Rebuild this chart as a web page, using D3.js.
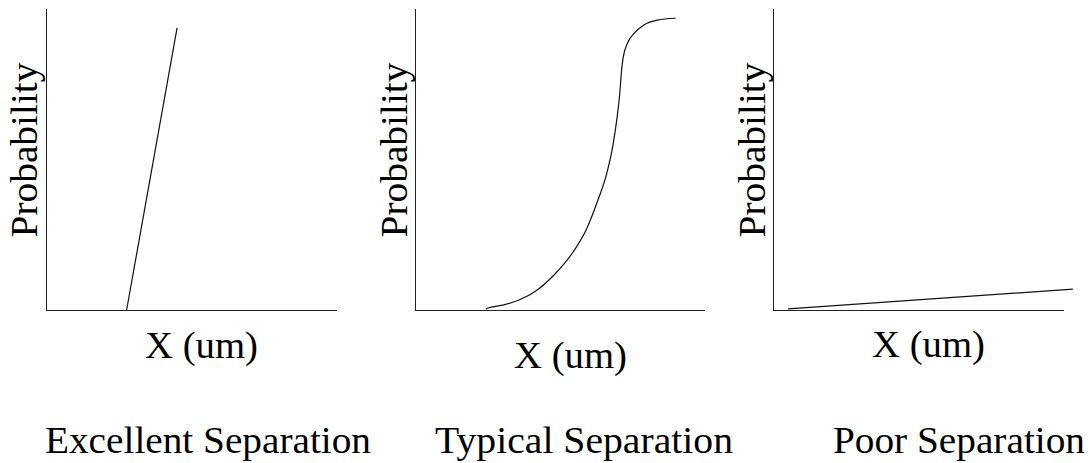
<!DOCTYPE html>
<html>
<head>
<meta charset="utf-8">
<script src="https://cdn.jsdelivr.net/npm/d3@7"></script>
<style>
  html, body { margin: 0; padding: 0; background: #fff; }
  svg text { font-family: "Liberation Serif", "Times New Roman", serif; fill: #000; }
  .axis path { stroke: #222; stroke-width: 1.5; }
  .curve { fill: none; stroke: #111; stroke-width: 1.2; }
</style>
</head>
<body>
<svg id="chart" width="1092" height="463"></svg>
<script>
/* Three sketch panels: probability vs. X for different separations. */

// panel names and labels
const panelTitles = ["Excellent Separation", "Typical Separation", "Poor Separation"];
const yLabel = "Probability";
const xLabel = "X (um)";

// curve values, in 0..100 units on both axes
const excellentX = [27.8, 45.2];
const excellentY = [0, 93.4];

const typicalX = [24.5, 25.0, 30.8, 36.0, 41.8, 48.1, 54.7, 59.2, 63.3, 66.4, 68.5, 69.9, 70.8, 71.5, 72.0, 73.5, 75.8, 79.2, 83.8, 90.2];
const typicalY = [0.2, 0.6, 1.7, 3.3, 6.3, 11.6, 19.2, 26.5, 36.4, 45.4, 54.6, 63.6, 71.2, 79.5, 83.4, 88.3, 91.6, 94.4, 96.0, 96.6];

const poorX = [5.2, 103.4];
const poorY = [0.4, 6.9];

const seriesX = [excellentX, typicalX, poorX];
const seriesY = [excellentY, typicalY, poorY];

// layout per panel (pixel frame of each axis box and its labels)
const frames = [
  { left: 46,  right: 336,  ylabX: 37,  xlabX: 201.5, xlabY: 358, titleX: 45,  titleLen: 326 },
  { left: 415, right: 704,  ylabX: 407, xlabX: 570.5, xlabY: 368, titleX: 435, titleLen: 298 },
  { left: 773, right: 1063, ylabX: 765, xlabX: 928.5, xlabY: 357, titleX: 833, titleLen: 252 }
];
const TOP = 8, BOTTOM = 310, TITLE_Y = 453;

const svg = d3.select("#chart");

frames.forEach((f, i) => {
  const x = d3.scaleLinear().domain([0, 100]).range([f.left, f.right]);
  const y = d3.scaleLinear().domain([0, 100]).range([BOTTOM, TOP]);
  const g = svg.append("g");

  g.append("g").attr("class", "axis")
    .attr("transform", `translate(0,${BOTTOM})`)
    .call(d3.axisBottom(x).ticks(0).tickSizeOuter(0))
    .attr("shape-rendering", "crispEdges");
  g.append("g").attr("class", "axis")
    .attr("transform", `translate(${f.left},0)`)
    .call(d3.axisLeft(y).ticks(0).tickSizeOuter(0))
    .attr("shape-rendering", "crispEdges");

  const pts = d3.zip(seriesX[i], seriesY[i]);
  const line = d3.line()
    .x((d) => x(d[0]))
    .y((d) => y(d[1]))
    .curve(pts.length > 2 ? d3.curveMonotoneX : d3.curveLinear);
  g.append("path").attr("class", "curve").attr("d", line(pts));

  g.append("text")
    .attr("transform", `translate(${f.ylabX},${(TOP + BOTTOM) / 2 - 9}) rotate(-90)`)
    .attr("text-anchor", "middle")
    .attr("font-size", 38)
    .attr("textLength", 175)
    .attr("lengthAdjust", "spacingAndGlyphs")
    .text(yLabel);

  g.append("text")
    .attr("x", f.xlabX).attr("y", f.xlabY)
    .attr("text-anchor", "middle")
    .attr("font-size", 38)
    .attr("textLength", 113)
    .attr("lengthAdjust", "spacingAndGlyphs")
    .text(xLabel);

  g.append("text")
    .attr("x", f.titleX).attr("y", TITLE_Y)
    .attr("font-size", 38)
    .attr("textLength", f.titleLen)
    .attr("lengthAdjust", "spacingAndGlyphs")
    .text(panelTitles[i]);
});
</script>
</body>
</html>
